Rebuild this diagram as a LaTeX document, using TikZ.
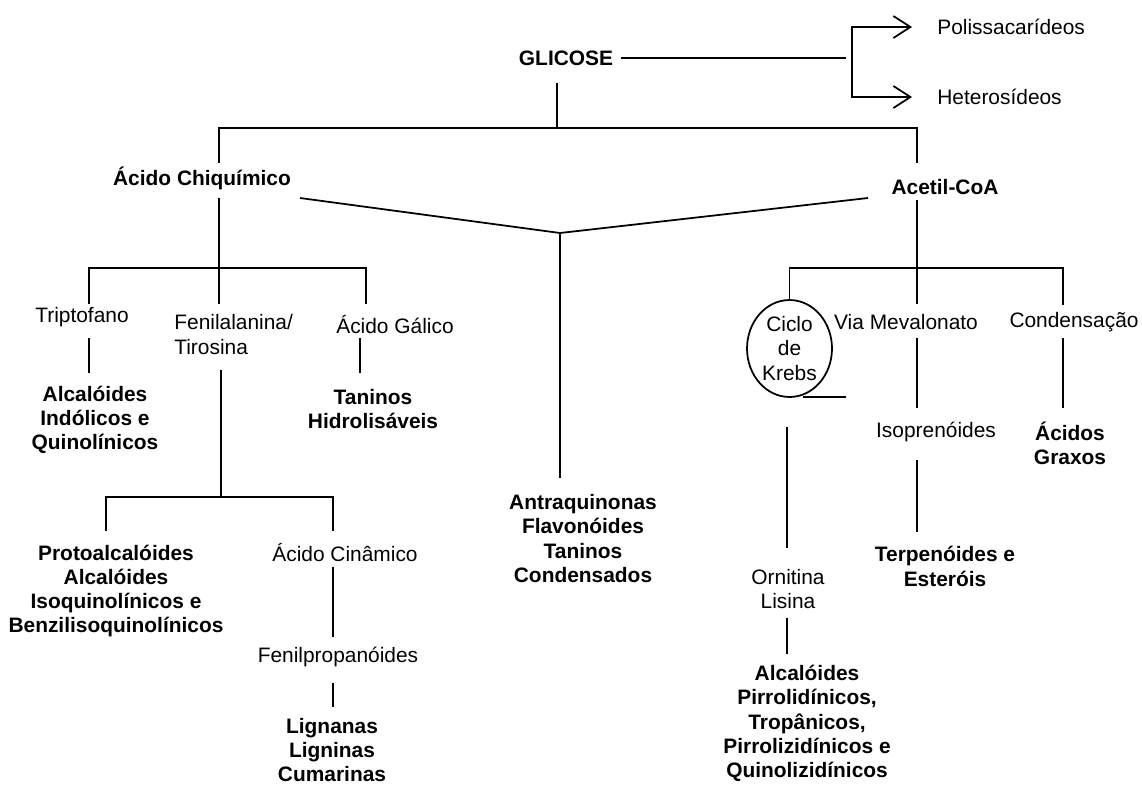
\documentclass[tikz,border=0pt]{standalone}
\usepackage{fontspec}
\setmainfont{Liberation Sans}
\usetikzlibrary{arrows.meta, positioning, shapes.geometric}

\tikzset{
  txt/.style={font=\fontsize{11.9}{13.8}\selectfont, align=center, inner sep=0pt},
  bold/.style={txt, font=\fontsize{11.9}{13.8}\selectfont\bfseries},
  ln/.style={line width=1pt},
  seta/.style={ln, {Straight Barb[length=3.4mm, width=4.4mm]}-{Straight Barb[length=3.4mm, width=4.4mm]}},
}

\begin{document}
\begin{tikzpicture}[x=0.02cm, y=-0.02cm]
    \useasboundingbox (0,0) rectangle (1142,785);

    % textos
    \node[bold] (glic) at (566,58) {GLICOSE};
    \node[txt, anchor=west] (poli) at (937,27) {Polissacarídeos};
    \node[txt, anchor=west] (hete) at (937,97) {Heterosídeos};
    \node[bold] (chiq) at (202,178) {Ácido Chiquímico};
    \node[bold] (acet) at (945,187) {Acetil-CoA};
    \node[txt] (trip) at (82,317) {Triptofano};
    \node[txt, anchor=west, align=left] (feni) at (174,334.5) {Fenilalanina/\\Tirosina};
    \node[txt] (gali) at (395,325) {Ácido Gálico};
    \node[bold] (alci) at (95,420) {Alcalóides\\Indólicos e\\Quinolínicos};
    \node[bold] (tanh) at (373,409) {Taninos\\Hidrolisáveis};
    \node[bold] (prot) at (116,591) {Protoalcalóides\\Alcalóides\\Isoquinolínicos e\\Benzilisoquinolínicos};
    \node[txt] (cina) at (345,553) {Ácido Cinâmico};
    \node[txt] (fenp) at (338,657) {Fenilpropanóides};
    \node[bold] (lign) at (332,750) {Lignanas\\Ligninas\\Cumarinas};
    \node[bold] (antr) at (583,538.5) {Antraquinonas\\Flavonóides\\Taninos\\Condensados};
    \node[txt, draw, ellipse, line width=1pt, minimum width=1.7cm, minimum height=1.94cm] (krebs) at (789.5,348.5) {Ciclo\\de\\Krebs};
    \node[txt] (meva) at (906,322) {Via Mevalonato};
    \node[txt] (cond) at (1074,322) {Condensação};
    \node[txt] (isop) at (936,432) {Isoprenóides};
    \node[bold] (terp) at (945,566.5) {Terpenóides e\\Esteróis};
    \node[bold] (acgr) at (1070,443.5) {Ácidos\\Graxos};
    \node[txt] (orni) at (788,589) {Ornitina\\Lisina};
    \node[bold] (alcp) at (807,723.5) {Alcalóides\\Pirrolidínicos,\\Tropânicos,\\Pirrolizidínicos e\\Quinolizidínicos};

    % pontos das ligações
    \coordinate (glicR) at (846,58);
    \coordinate (bk) at (852,62);
    \coordinate (glicB) at (557,83);
    \coordinate (glicJ) at (557,128);
    \coordinate (chiqT) at (219,163);
    \coordinate (acetT) at (917,163);
    \coordinate (chiqB) at (219,198);
    \coordinate (chiqJ) at (219,268);
    \coordinate (tripT) at (89,304);
    \coordinate (fenT) at (219,304);
    \coordinate (galT) at (366,304);
    \coordinate (tripB) at (89,338);
    \coordinate (alciT) at (89,373);
    \coordinate (galB) at (360,338);
    \coordinate (tanhT) at (360,373);
    \coordinate (fenB) at (221,370);
    \coordinate (fenJ) at (221,497);
    \coordinate (protT) at (106,531);
    \coordinate (cinaT) at (333,531);
    \coordinate (cinaB) at (333,567);
    \coordinate (fenpT) at (333,637);
    \coordinate (fenpB) at (333,683);
    \coordinate (lignT) at (333,707);
    \coordinate (vL) at (300,198);
    \coordinate (vR) at (868,198);
    \coordinate (vJ) at (560,233);
    \coordinate (antrT) at (560,478);
    \coordinate (acetB) at (917,200);
    \coordinate (acetJ) at (917,268);
    \coordinate (mevaT) at (917,304);
    \coordinate (condT) at (1063,305);
    \coordinate (krebsA) at (803,397);
    \coordinate (krebsB) at (846,397);
    \coordinate (mevaB) at (917,338);
    \coordinate (isopT) at (917,408);
    \coordinate (isopB) at (917,460);
    \coordinate (terpT) at (917,532);
    \coordinate (condB) at (1063,338);
    \coordinate (acgrT) at (1063,408);
    \coordinate (krebsD) at (787,427);
    \coordinate (orniT) at (787,548);
    \coordinate (orniB) at (787,618);
    \coordinate (alcpT) at (787,654);

    % ligações
    \draw[ln] ([xshift=1.6mm]glic.east) -- (glicR);
    \draw[seta] ([xshift=-5mm]poli.west) -| (bk) |- ([xshift=-5mm]hete.west);
    \draw[ln] (glicB) -- (glicJ);
    \draw[ln] (chiqT) |- (glicJ) -| (acetT);
    \draw[ln] (chiqB) -- (fenT);
    \draw[ln] (tripT) |- (chiqJ) -| (galT);
    \draw[ln] (tripB) -- (alciT);
    \draw[ln] (galB) -- (tanhT);
    \draw[ln] (fenB) -- (fenJ);
    \draw[ln] (protT) |- (fenJ) -| (cinaT);
    \draw[ln] (cinaB) -- (fenpT);
    \draw[ln] (fenpB) -- (lignT);
    \draw[ln] (vL) -- (vJ) -- (vR);
    \draw[ln] (vJ) -- (antrT);
    \draw[ln] (acetB) -- (mevaT);
    \draw[ln] (krebs.north) |- (acetJ) -| (condT);
    \draw[ln] (krebsA) -- (krebsB);
    \draw[ln] (mevaB) -- (isopT);
    \draw[ln] (isopB) -- (terpT);
    \draw[ln] (condB) -- (acgrT);
    \draw[ln] (krebsD) -- (orniT);
    \draw[ln] (orniB) -- (alcpT);
\end{tikzpicture}
\end{document}
